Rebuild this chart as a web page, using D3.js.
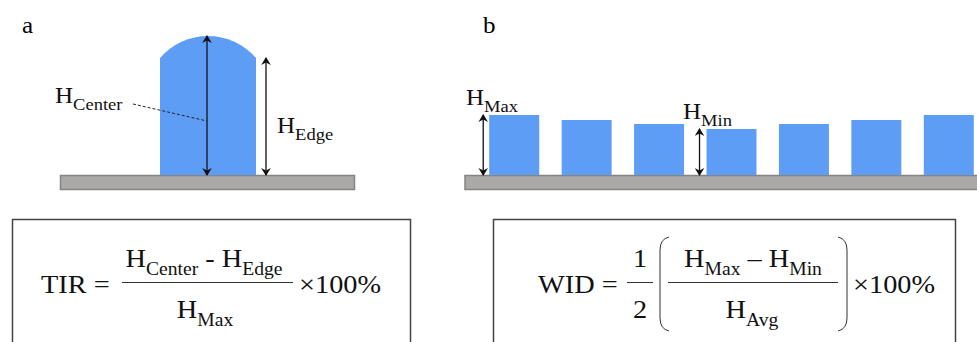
<!DOCTYPE html>
<html><head><meta charset="utf-8"><script src="https://cdn.jsdelivr.net/npm/d3@7"></script></head>
<body style="margin:0">
<script>
// Data
var panelLabels = ["a", "b"];
// panel a: droplet heights (px units above substrate)
var domeHeights = { center: 139, edge: 117 };
// panel b: seven printed lines of different heights
var lineIds = ["1", "2", "3", "4", "5", "6", "7"];
var lineHeights = [60, 55, 51, 46, 51, 55, 60];

var svgWidth = 977;
var svgHeight = 342;

var blue = "#5e9df5";
var grey = "#aba8a8";
var greyEdge = "#868383";
var FONT = "Liberation Serif";
var SX = 1.09; // the source type is a little wider than Liberation Serif

var svg = d3.select("body").append("svg")
  .attr("width", svgWidth)
  .attr("height", svgHeight);

// arrow heads
var defs = svg.append("defs");
["start", "end"].forEach(function (k) {
  defs.append("marker")
    .attr("id", "arrow-" + k)
    .attr("viewBox", "-7 -5 9 10")
    .attr("refX", 0).attr("refY", 0)
    .attr("markerWidth", 9).attr("markerHeight", 10)
    .attr("markerUnits", "userSpaceOnUse")
    .attr("orient", k === "end" ? "auto" : "auto-start-reverse")
    .append("path")
    .attr("d", "M-7,-4.8 L1,0 L-7,4.8 L-4.5,0 Z")
    .attr("fill", "#111");
});

function vArrow(g, x, y0, y1) {
  g.append("line")
    .attr("x1", x).attr("x2", x)
    .attr("y1", y0).attr("y2", y1)
    .attr("stroke", "#111")
    .attr("stroke-width", 1.3)
    .attr("marker-start", "url(#arrow-start)")
    .attr("marker-end", "url(#arrow-end)");
}

function txt(g, x, y, size, s, anchor) {
  return g.append("g")
    .attr("transform", `translate(${x},${y}) scale(${SX},1)`)
    .append("text")
    .attr("text-anchor", anchor || "start")
    .attr("fill", "#111")
    .style("font-family", "'" + FONT + "'")
    .style("font-size", size + "px")
    .text(s);
}

// "H" + subscript, optionally "op H" + subscript
function hText(g, x, y, size, subSize, parts, anchor) {
  var t = g.append("g")
    .attr("transform", `translate(${x},${y}) scale(${SX},1)`)
    .append("text")
    .attr("text-anchor", anchor || "start")
    .attr("fill", "#111")
    .style("font-family", "'" + FONT + "'")
    .style("font-size", size + "px");
  var shift = Math.round(size * 0.29);
  parts.forEach(function (p, i) {
    if (i > 0) t.append("tspan").attr("dy", -shift).text(p.pre);
    else t.append("tspan").text(p.pre);
    t.append("tspan").attr("dy", shift).style("font-size", subSize + "px").text(p.sub);
  });
  return t;
}

// panel labels
svg.selectAll("g.panel")
  .data(panelLabels)
  .enter()
  .append("g")
  .attr("class", "panel")
  .attr("transform", (d, i) => `translate(${i === 0 ? 22 : 483},33) scale(${SX},1)`)
  .append("text")
  .style("font-family", "'" + FONT + "'")
  .style("font-size", "23px")
  .text(d => d);

// ================= Panel a =================
var ga = svg.append("g");
var baseY = 175;
var yA = d3.scaleLinear().domain([0, domeHeights.center]).range([baseY, baseY - domeHeights.center]);

ga.append("rect")
  .attr("x", 60.5).attr("y", baseY + 0.5)
  .attr("width", 294).attr("height", 14)
  .attr("fill", grey).attr("stroke", greyEdge).attr("stroke-width", 1.5);

var domeL = 160, domeR = 256;
var half = (domeR - domeL) / 2;
var sag = yA(domeHeights.edge) - yA(domeHeights.center);
var radius = (half * half + sag * sag) / (2 * sag);
ga.append("path")
  .attr("d", `M${domeL},${baseY} L${domeL},${yA(domeHeights.edge)} A${radius},${radius} 0 0 1 ${domeR},${yA(domeHeights.edge)} L${domeR},${baseY} Z`)
  .attr("fill", blue);

var cx = (domeL + domeR) / 2 - 1;
vArrow(ga, cx, yA(domeHeights.center), baseY);
vArrow(ga, 266, yA(domeHeights.edge), baseY);

ga.append("line")
  .attr("x1", 133).attr("y1", 104)
  .attr("x2", cx).attr("y2", 121)
  .attr("stroke", "#222").attr("stroke-width", 1)
  .attr("stroke-dasharray", "3,2");

hText(ga, 55, 103, 23, 17, [{ pre: "H", sub: "Center" }]);
hText(ga, 277, 133, 23, 17, [{ pre: "H", sub: "Edge" }]);

// ================= Panel b =================
var gb = svg.append("g");
var x = d3.scaleBand()
  .domain(lineIds)
  .range([478, 985])
  .paddingInner(0.31)
  .paddingOuter(0.155);
var y = d3.scaleLinear().domain([0, 60]).range([baseY, 115]);

gb.append("rect")
  .attr("x", 465).attr("y", baseY + 0.5)
  .attr("width", 520).attr("height", 14)
  .attr("fill", grey).attr("stroke", greyEdge).attr("stroke-width", 1.5);

gb.selectAll("rect.line")
  .data(lineHeights)
  .enter()
  .append("rect")
  .attr("class", "line")
  .attr("x", (d, i) => x(lineIds[i]))
  .attr("y", d => y(d))
  .attr("width", x.bandwidth())
  .attr("height", d => y(0) - y(d))
  .attr("fill", blue);

var maxH = d3.max(lineHeights), minH = d3.min(lineHeights);
var minIdx = lineHeights.indexOf(minH);
vArrow(gb, x(lineIds[0]) - 6, y(maxH), baseY);
vArrow(gb, x(lineIds[minIdx]) - 7, y(minH), baseY);

hText(gb, 466, 105, 23, 17, [{ pre: "H", sub: "Max" }]);
hText(gb, 683, 119, 23, 17, [{ pre: "H", sub: "Min" }]);

// ================= Formula boxes =================
var gf = svg.append("g");
gf.append("rect")
  .attr("x", 12.5).attr("y", 219.5)
  .attr("width", 398).attr("height", 140)
  .attr("fill", "none").attr("stroke", "#444").attr("stroke-width", 1.5);
gf.append("rect")
  .attr("x", 493.5).attr("y", 219.5)
  .attr("width", 462).attr("height", 140)
  .attr("fill", "none").attr("stroke", "#444").attr("stroke-width", 1.5);

var F = 26, S = 18;

// TIR
txt(gf, 41, 293, F, "TIR =");
hText(gf, 204, 267, F, S, [{ pre: "H", sub: "Center" }, { pre: " - H", sub: "Edge" }], "middle");
gf.append("line").attr("x1", 122).attr("x2", 293).attr("y1", 282.5).attr("y2", 282.5)
  .attr("stroke", "#333").attr("stroke-width", 1);
hText(gf, 205, 318, F, S, [{ pre: "H", sub: "Max" }], "middle");
txt(gf, 299, 293, F, "\u00d7100%");

// WID
txt(gf, 538, 293, F, "WID =");
txt(gf, 640, 267, F, "1", "middle");
txt(gf, 640, 318, F, "2", "middle");
gf.append("line").attr("x1", 627).attr("x2", 653).attr("y1", 282.5).attr("y2", 282.5)
  .attr("stroke", "#333").attr("stroke-width", 1);

gf.append("path")
  .attr("d", "M669,237 Q660,239 660,250 L660,318 Q660,329 669,331")
  .attr("fill", "none").attr("stroke", "#333").attr("stroke-width", 1);
gf.append("path")
  .attr("d", "M838,237 Q847,239 847,250 L847,318 Q847,329 838,331")
  .attr("fill", "none").attr("stroke", "#333").attr("stroke-width", 1);

hText(gf, 753, 267, F, S, [{ pre: "H", sub: "Max" }, { pre: " \u2013 H", sub: "Min" }], "middle");
gf.append("line").attr("x1", 668).attr("x2", 838).attr("y1", 282.5).attr("y2", 282.5)
  .attr("stroke", "#333").attr("stroke-width", 1);
hText(gf, 752, 318, F, S, [{ pre: "H", sub: "Avg" }], "middle");
txt(gf, 853, 293, F, "\u00d7100%");
</script></body></html>
